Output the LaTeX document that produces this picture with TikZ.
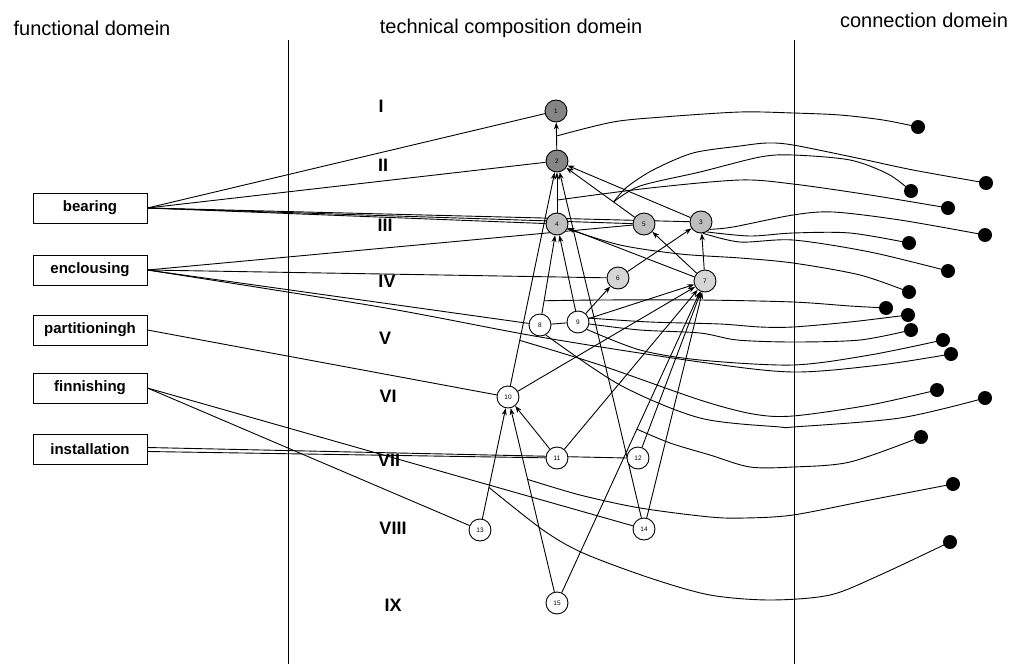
\documentclass[tikz,border=0pt]{standalone}
\usepackage{fontspec}
\setmainfont{Liberation Sans}
\usetikzlibrary{calc,arrows.meta,backgrounds}
\definecolor{gdark}{HTML}{858585}
\definecolor{gmid}{HTML}{BEBEBE}
\definecolor{glight}{HTML}{D6D6D6}
\begin{document}
\begin{tikzpicture}[x=1pt,y=-1pt,
  lnk/.style={line width=0.9pt,line join=round},
  arr/.style={lnk,-{Stealth[length=7pt,width=5pt]}},
  cnode/.style={circle,draw,line width=0.9pt,minimum size=22pt,inner sep=0pt,font=\fontsize{6.5}{6.5}\selectfont,fill=white},
  dnode/.style={cnode,fill=gdark},
  mnode/.style={cnode,fill=gmid},
  lnode/.style={cnode,fill=glight},
  dot/.style={circle,fill=black,minimum size=14pt,inner sep=0pt},
  fbox/.style={draw,line width=0.9pt,minimum width=114pt,minimum height=30pt,inner sep=0pt,fill=white,font=\bfseries\fontsize{15}{15}\selectfont},
  head/.style={font=\fontsize{20}{20}\selectfont,inner sep=0pt},
  level/.style={font=\bfseries\fontsize{18}{18}\selectfont,inner sep=0pt},
  sep/.style={line width=0.9pt}
]
\useasboundingbox (0,0) rectangle (1010,664);
% headers
\node[head] (hf) at (92,28) {functional domein};
\node[head] (ht) at (511,28) {technical composition domein};
\node[head] (hc) at (924,20) {connection domein};
% separators
\coordinate (v1t) at (288,40); \coordinate (v1b) at (288,664);
\coordinate (v2t) at (794,40); \coordinate (v2b) at (794,664);
\draw[sep] (v1t) -- (v1b);
\draw[sep] (v2t) -- (v2b);
% levels
\node[level] (L1) at (381,106) {I};
\node[level] (L2) at (383,165) {II};
\node[level] (L3) at (385,225) {III};
\node[level] (L4) at (387,281) {IV};
\node[level] (L5) at (385,338) {V};
\node[level] (L6) at (388,396) {VI};
\node[level] (L7) at (389,460) {VII};
\node[level] (L8) at (393,528) {VIII};
\node[level] (L9) at (393,605) {IX};
% functional boxes
\node[fbox] (bearing) at (90,208) {bearing};
\node[fbox] (enclousing) at (90,270) {enclousing};
\node[fbox] (partitioningh) at (90,330) {partitioningh};
\node[fbox] (finnishing) at (90,388) {finnishing};
\node[fbox] (installation) at (90,449) {installation};
% technical nodes
\node[dnode] (n1) at (556,111) {1};
\node[dnode] (n2) at (557,161) {2};
\node[mnode] (n4) at (557,224) {4};
\node[mnode] (n5) at (644,224) {5};
\node[mnode] (n3) at (701,222) {3};
\node[lnode] (n6) at (618,278) {6};
\node[lnode] (n7) at (705,281) {7};
\node[cnode] (n8) at (540,325) {8};
\node[cnode] (n9) at (578,322) {9};
\node[cnode] (n10) at (508,397) {10};
\node[cnode] (n11) at (557,458) {11};
\node[cnode] (n12) at (638,458) {12};
\node[cnode] (n13) at (480,530) {13};
\node[cnode] (n14) at (644,529) {14};
\node[cnode] (n15) at (557,603) {15};
% connection dots
\node[dot] (d1) at (918,127) {};
\node[dot] (d2) at (986,183) {};
\node[dot] (d3) at (911,191) {};
\node[dot] (d4) at (948,208) {};
\node[dot] (d5) at (985,235) {};
\node[dot] (d6) at (909,243) {};
\node[dot] (d7) at (948,271) {};
\node[dot] (d8) at (909,292) {};
\node[dot] (d9) at (886,308) {};
\node[dot] (d10) at (908,315) {};
\node[dot] (d11) at (911,330) {};
\node[dot] (d12) at (943,340) {};
\node[dot] (d13) at (951,354) {};
\node[dot] (d14) at (937,390) {};
\node[dot] (d15) at (985,398) {};
\node[dot] (d16) at (921,437) {};
\node[dot] (d17) at (953,484) {};
\node[dot] (d18) at (950,542) {};
% start points on lines
\coordinate (s1) at ($(n1)!0.5!(n2)$);
\coordinate (s2) at ($(n5)!0.35!(n2)$);
\coordinate (s4) at ($(n4)!0.38!(n2)$);
\coordinate (s9) at ($(n8)!0.24!(n4)$);
\coordinate (s14) at ($(n10)!0.24!(n2)$);
\coordinate (s16) at ($(n15)!0.54!(n7)$);
\coordinate (s17) at ($(n15)!0.6!(n10)$);
\coordinate (s18) at ($(n13)!0.32!(n10)$);
\coordinate (inA) at ($(installation.east)+(0,-1.5)$);
\coordinate (inB) at ($(installation.east)+(0,2.5)$);
\begin{scope}[on background layer]
% composition arrows
\draw[arr] (n2) -- (n1);
\draw[arr] (n4) -- (n2);
\draw[arr] (n10) -- (n2);
\draw[arr] (n14) -- (n2);
\draw[arr] (n5) -- (n2);
\draw[arr] (n3) -- (n2);
\draw[arr] (n8) -- (n4);
\draw[arr] (n9) -- (n4);
\draw[arr] (n7) -- (n4);
\draw[arr] (n7) -- (n5);
\draw[arr] (n7) -- (n3);
\draw[arr] (n6) -- (n3);
\draw[arr] (n9) -- (n6);
\draw[arr] (n9) -- (n7);
\draw[arr] (n10) -- (n7);
\draw[arr] (n11) -- (n7);
\draw[arr] (n12) -- (n7);
\draw[arr] (n14) -- (n7);
\draw[arr] (n15) -- (n7);
\draw[arr] (n13) -- (n10);
\draw[arr] (n15) -- (n10);
\draw[arr] (n11) -- (n10);
\draw[lnk] (n8) -- (n9);
% functional links
\draw[lnk] (bearing.east) -- (n1);
\draw[lnk] (bearing.east) -- (n2);
\draw[lnk] (bearing.east) -- (n4);
\draw[lnk] (bearing.east) -- (n5);
\draw[lnk] (bearing.east) -- (n3);
\draw[lnk] (enclousing.east) -- (n5);
\draw[lnk] (enclousing.east) -- (n6);
\draw[lnk] (enclousing.east) -- (n8);
\draw[lnk] (partitioningh.east) -- (n10);
\draw[lnk] (finnishing.east) -- (n14);
\draw[lnk] (finnishing.east) -- (n13);
\draw[lnk] (inA) -- (n12.west);
\draw[lnk] (inB) -- (n11);
% connection curves
\draw[lnk] plot[smooth,tension=0.5] coordinates {(s1) (613,122) (663,117) (740,112) (793,113) (840,115) (883,120) (d1)};
\draw[lnk] plot[smooth,tension=0.5] coordinates {(s2) (627,187) (653,170) (693,153) (740,146) (767,143) (793,145) (857,158) (913,170) (d2)};
\draw[lnk] plot[smooth,tension=0.5] coordinates {(s2) (640,186) (700,172) (760,157) (793,155) (850,160) (888,174) (d3)};
\draw[lnk] plot[smooth,tension=0.5] coordinates {(s4) (650,188) (740,180) (793,184) (870,195) (d4)};
\draw[lnk] plot[smooth,tension=0.5] coordinates {(n3.-40) (733,227) (793,215) (833,212) (900,220) (d5)};
\draw[lnk] plot[smooth,tension=0.5] coordinates {(n3.-60) (750,236) (793,233) (850,233) (d6)};
\draw[lnk] plot[smooth,tension=0.5] coordinates {(n3.-80) (740,242) (793,240) (870,252) (d7)};
\draw[lnk] plot[smooth,tension=0.5] coordinates {(n4.-25) (620,245) (680,254) (740,258) (793,263) (860,275) (d8)};
\draw[lnk] plot[smooth,tension=0.5] coordinates {(s9) (600,300) (700,300) (793,302) (850,306) (d9)};
\draw[lnk] plot[smooth,tension=0.5] coordinates {(n9.20) (650,322) (720,324) (760,327) (793,327) (850,322) (d10)};
\draw[lnk] plot[smooth,tension=0.5] coordinates {(n9.-10) (640,330) (700,333) (737,340) (793,342) (860,340) (d11)};
\draw[lnk] plot[smooth,tension=0.5] coordinates {(n9.-40) (640,350) (700,360) (793,365) (870,355) (d12)};
\draw[lnk] plot[smooth,tension=0.5] coordinates {(enclousing.east) (380,307) (540,337) (700,362) (793,372) (880,365) (d13)};
\draw[lnk] plot[smooth,tension=0.5] coordinates {(s14) (600,365) (700,400) (753,414) (793,416) (870,405) (d14)};
\draw[lnk] plot[smooth,tension=0.5] coordinates {(n8.-60) (620,385) (700,418) (780,427) (793,427) (900,418) (d15)};
\draw[lnk] plot[smooth,tension=0.5] coordinates {(s16) (670,443) (710,455) (750,467) (793,467) (850,462) (d16)};
\draw[lnk] plot[smooth,tension=0.5] coordinates {(s17) (580,495) (640,508) (710,517) (745,518) (793,515) (870,500) (d17)};
\draw[lnk] plot[smooth,tension=0.5] coordinates {(s18) (543,530) (583,553) (650,578) (710,595) (770,600) (830,595) (880,575) (d18)};
\end{scope}
\end{tikzpicture}
\end{document}
